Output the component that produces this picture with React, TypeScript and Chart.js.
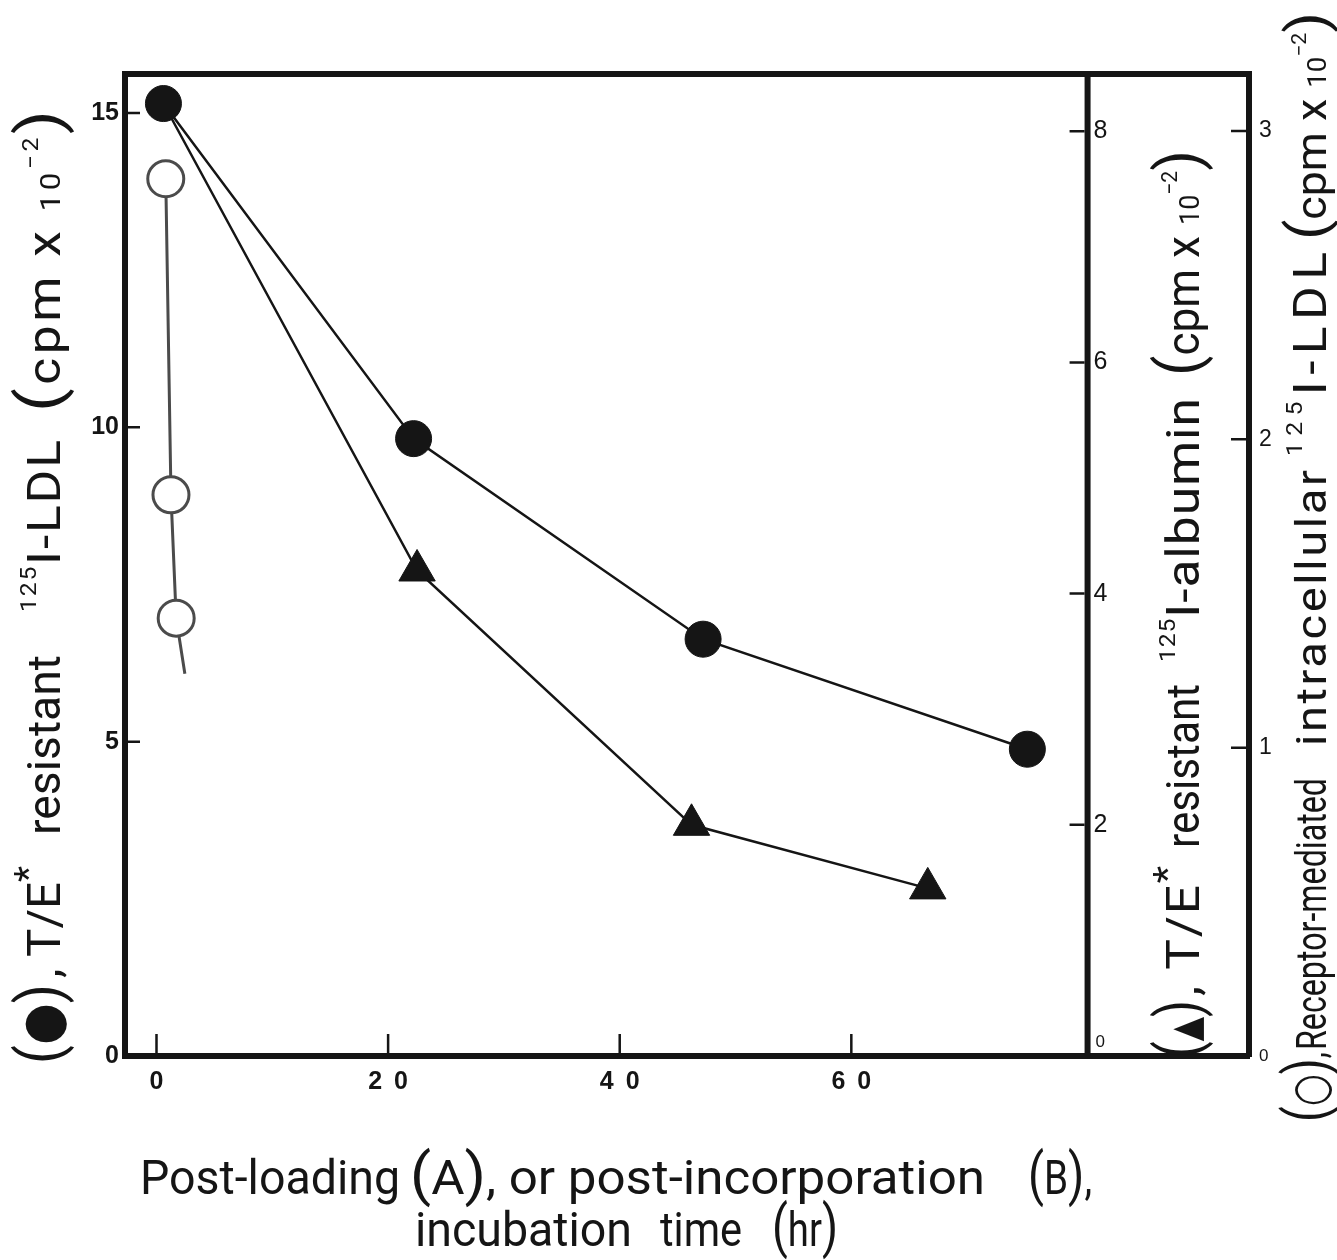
import React, { useEffect, useRef } from "react";
import { Chart, registerables } from "chart.js";

Chart.register(...registerables);

// Incubation time (hr) and measured counts for each series
const ldlHours = [0.6, 22.2, 47.2, 75.2];
const ldlCpm = [15.15, 9.82, 6.63, 4.88];
const albuminHours = [0.6, 22.5, 46.2, 66.6];
const albuminCpm = [8.24, 4.2, 2.0, 1.45];
const receptorHours = [0.8, 1.25, 1.7, 2.45];
const receptorCpm = [2.845, 1.82, 1.42, 1.24];

// Tick values of the four axes
const hourTicks = [0, 20, 40, 60];
const ldlTicks = [0, 5, 10, 15];
const albuminTicks = [0, 2, 4, 6, 8];
const receptorTicks = [0, 1, 2, 3];

// Where the albumin axis stands on the time axis
const albuminAxisHour = 80.4;

const WIDTH = 1337;
const HEIGHT = 1260;
const INK = "#151515";
const GREY = "#4b4b4b";
const TITLE_FONT = "Roboto, 'DejaVu Sans', sans-serif";
const TICK_FONT = "'Liberation Sans', Arial, sans-serif";
const SYMBOL_FONT = "'DejaVu Sans', sans-serif";

type Run = { text: string; size: number; rise?: number; family?: string };
type Group = { from: number; to: number; runs: Run[] };

const T = (text: string, size = 46): Run => ({ text, size });
const P = (text: string, size = 62): Run => ({ text, size });
const S = (text: string, size = 54): Run => ({ text, size, family: SYMBOL_FONT });
const R = (text: string, size: number, rise: number): Run => ({ text, size, rise });

const leftTitle: Group[] = [
  { from: 1064, to: 984, runs: [P("("), S("●"), P(")")] },
  { from: 978, to: 866, runs: [T(", T/E"), R("*", 36, 20)] },
  { from: 835, to: 655, runs: [T("resistant")] },
  { from: 612, to: 440, runs: [R("125", 22, 24), T("I-LDL")] },
  { from: 412, to: 110, runs: [P("("), T("cpm x "), T("10", 28), R("−2", 22, 22), P(")")] },
];

const albuminTitle: Group[] = [
  { from: 1058, to: 1000, runs: [P("("), S("▲", 40), P(")")] },
  { from: 996, to: 866, runs: [T(", T/E"), R("*", 36, 20)] },
  { from: 848, to: 684, runs: [T("resistant")] },
  { from: 662, to: 398, runs: [R("125", 22, 24), T("I-albumin")] },
  { from: 376, to: 150, runs: [P("("), T("cpm x "), T("10", 28), R("−2", 22, 22), P(")")] },
];

const receptorTitle: Group[] = [
  { from: 1122, to: 1052, runs: [P("(", 60), S("○", 48), P(")", 60), T(",", 42)] },
  { from: 1050, to: 778, runs: [T("Receptor-mediated", 42)] },
  { from: 746, to: 470, runs: [T("intracellular", 42)] },
  { from: 456, to: 252, runs: [R("125", 22, 24), T("I-LDL", 46)] },
  { from: 240, to: 12, runs: [P("(", 56), T("cpm x ", 42), T("10", 26), R("−2", 20, 20), P(")", 56)] },
];

const timeTitle: { baseline: number; groups: Group[] }[] = [
  {
    baseline: 1194,
    groups: [
      { from: 140, to: 400, runs: [T("Post-loading", 48)] },
      { from: 410, to: 985, runs: [P("(", 58), T("A", 48), P(")", 58), T(", or post-incorporation", 48)] },
      { from: 1028, to: 1092, runs: [P("(", 58), T("B", 48), P(")", 58), T(",", 48)] },
    ],
  },
  {
    baseline: 1246,
    groups: [
      { from: 415, to: 632, runs: [T("incubation", 48)] },
      { from: 660, to: 742, runs: [T("time", 48)] },
      { from: 772, to: 838, runs: [P("(", 58), T("hr", 48), P(")", 58)] },
    ],
  },
];

function fontOf(run: Run) {
  return `${run.size}px ${run.family ?? TITLE_FONT}`;
}

// Draws a group of text runs so that it spans [from, to]: squeezed when too
// long; when too short it is widened a little, then letter-spaced.
function drawGroup(ctx: CanvasRenderingContext2D, group: Group, baseline: number, vertical: boolean) {
  ctx.save();
  (ctx as any).letterSpacing = "0px";
  const widths = group.runs.map((run) => {
    ctx.font = fontOf(run);
    return ctx.measureText(run.text).width;
  });
  const total = widths.reduce((a, b) => a + b, 0);
  const span = Math.abs(group.to - group.from);
  const chars = group.runs.reduce((n, r) => n + r.text.length, 0);
  if (vertical) {
    ctx.translate(baseline, group.from);
    ctx.rotate(-Math.PI / 2);
  } else {
    ctx.translate(group.from, baseline);
  }
  let stretch = span / total;
  let spacing = 0;
  if (stretch > 1.12) {
    stretch = 1.12;
    if (chars > 1) spacing = (span / stretch - total) / (chars - 1);
  }
  ctx.scale(stretch, 1);
  ctx.textAlign = "left";
  ctx.textBaseline = "alphabetic";
  ctx.fillStyle = INK;
  let cursor = 0;
  group.runs.forEach((run, i) => {
    ctx.font = fontOf(run);
    (ctx as any).letterSpacing = `${spacing}px`;
    ctx.fillText(run.text, cursor, -(run.rise ?? 0));
    cursor += widths[i] + run.text.length * spacing;
  });
  ctx.restore();
}

const framePlugin = {
  id: "frame",
  beforeDraw(chart: any) {
    const ctx = chart.ctx as CanvasRenderingContext2D;
    ctx.save();
    ctx.fillStyle = "#ffffff";
    ctx.fillRect(0, 0, chart.width, chart.height);
    ctx.restore();
  },
  afterDraw(chart: any) {
    const ctx = chart.ctx as CanvasRenderingContext2D;
    const { left, right, top, bottom } = chart.chartArea;
    const xs = chart.scales.x;
    const yL = chart.scales.yLdl;
    const yA = chart.scales.yAlbumin;
    const yR = chart.scales.yReceptor;
    ctx.save();
    ctx.strokeStyle = INK;
    ctx.lineCap = "butt";

    // top edge of the frame
    ctx.lineWidth = 6;
    ctx.beginPath();
    ctx.moveTo(left - 3, top);
    ctx.lineTo(right + 3, top);
    ctx.stroke();

    // albumin axis inside the frame
    const ax = xs.getPixelForValue(albuminAxisHour);
    ctx.beginPath();
    ctx.moveTo(ax, top);
    ctx.lineTo(ax, bottom);
    ctx.stroke();

    // inward tick marks
    ctx.lineWidth = 2.5;
    ctx.beginPath();
    ldlTicks.forEach((v) => {
      if (v === 0) return;
      const y = yL.getPixelForValue(v);
      ctx.moveTo(left + 3, y);
      ctx.lineTo(left + 15, y);
    });
    hourTicks.forEach((v) => {
      const x = xs.getPixelForValue(v);
      ctx.moveTo(x, bottom - 3);
      ctx.lineTo(x, bottom - 22);
    });
    albuminTicks.forEach((v) => {
      if (v === 0) return;
      const y = yA.getPixelForValue(v);
      ctx.moveTo(ax - 18, y);
      ctx.lineTo(ax - 3, y);
    });
    receptorTicks.forEach((v) => {
      if (v === 0) return;
      const y = yR.getPixelForValue(v);
      ctx.moveTo(right - 18, y);
      ctx.lineTo(right - 3, y);
    });
    ctx.stroke();

    ctx.fillStyle = INK;

    // time axis labels, letter-spaced
    const hourSpacing = 12;
    ctx.font = `bold 25px ${TICK_FONT}`;
    ctx.textAlign = "center";
    ctx.textBaseline = "middle";
    (ctx as any).letterSpacing = `${hourSpacing}px`;
    hourTicks.forEach((v) => {
      ctx.fillText(String(v), xs.getPixelForValue(v) + hourSpacing / 2, bottom + 26);
    });
    (ctx as any).letterSpacing = "0px";

    // albumin axis labels
    ctx.textAlign = "left";
    albuminTicks.forEach((v) => {
      if (v === 0) {
        ctx.font = `17px ${TICK_FONT}`;
        ctx.fillText(String(v), ax + 8, bottom - 14);
      } else {
        ctx.font = `25px ${TICK_FONT}`;
        ctx.fillText(String(v), ax + 6, yA.getPixelForValue(v));
      }
    });
    ctx.restore();

    // axis titles
    leftTitle.forEach((g) => drawGroup(ctx, g, 60, true));
    albuminTitle.forEach((g) => drawGroup(ctx, g, 1199, true));
    receptorTitle.forEach((g) => drawGroup(ctx, g, 1326, true));
    timeTitle.forEach((line) => line.groups.forEach((g) => drawGroup(ctx, g, line.baseline, false)));
  },
};

const points = (xs: number[], ys: number[]) => xs.map((x, i) => ({ x, y: ys[i] }));

export default function App() {
  const canvasRef = useRef<HTMLCanvasElement | null>(null);

  useEffect(() => {
    document.body.style.margin = "0";
    const canvas = canvasRef.current;
    if (!canvas) return;

    const chart = new Chart(canvas, {
      type: "scatter",
      data: {
        datasets: [
          {
            label: "T/E* resistant 125I-LDL",
            data: points(ldlHours, ldlCpm),
            yAxisID: "yLdl",
            showLine: true,
            borderColor: INK,
            borderWidth: 2.5,
            pointStyle: "circle",
            pointRadius: 18,
            pointHoverRadius: 18,
            pointBackgroundColor: INK,
            pointBorderColor: INK,
            pointBorderWidth: 1,
          },
          {
            label: "T/E* resistant 125I-albumin",
            data: points(albuminHours, albuminCpm),
            yAxisID: "yAlbumin",
            showLine: true,
            borderColor: INK,
            borderWidth: 2.5,
            pointStyle: "triangle",
            pointRadius: [0, 21, 21, 21],
            pointHoverRadius: [0, 21, 21, 21],
            pointBackgroundColor: INK,
            pointBorderColor: INK,
            pointBorderWidth: 1,
          },
          {
            label: "Receptor-mediated intracellular 125I-LDL",
            data: points(receptorHours, receptorCpm),
            yAxisID: "yReceptor",
            showLine: true,
            borderColor: GREY,
            borderWidth: 3,
            pointStyle: "circle",
            pointRadius: [18, 18, 18, 0],
            pointHoverRadius: [18, 18, 18, 0],
            pointBackgroundColor: "#ffffff",
            pointBorderColor: GREY,
            pointBorderWidth: 3,
          },
        ],
      },
      options: {
        responsive: false,
        animation: false,
        devicePixelRatio: 1,
        layout: { padding: { left: 0, right: 0, top: 74, bottom: 0 } },
        plugins: {
          legend: { display: false },
          tooltip: { enabled: false },
          title: { display: false },
        },
        elements: { line: { tension: 0 } },
        scales: {
          x: {
            type: "linear",
            position: "bottom",
            min: -2.72,
            max: 94.34,
            afterBuildTicks: (scale: any) => {
              scale.ticks = hourTicks.map((value) => ({ value }));
            },
            afterFit: (scale: any) => {
              scale.height = HEIGHT - 1056;
            },
            grid: { display: false, drawTicks: false },
            border: { display: true, width: 6, color: INK },
            ticks: { display: false },
          },
          yLdl: {
            type: "linear",
            position: "left",
            min: 0,
            max: 15.62,
            afterBuildTicks: (scale: any) => {
              scale.ticks = ldlTicks.map((value) => ({ value }));
            },
            afterFit: (scale: any) => {
              scale.width = 125;
            },
            grid: { display: false, drawTicks: false },
            border: { display: true, width: 6, color: INK },
            ticks: {
              color: INK,
              padding: 6,
              font: { family: TICK_FONT, size: 25, weight: "bold" },
            },
          },
          yAlbumin: {
            type: "linear",
            position: "right",
            display: false,
            min: 0,
            max: 8.495,
          },
          yReceptor: {
            type: "linear",
            position: "right",
            min: 0,
            max: 3.185,
            afterBuildTicks: (scale: any) => {
              scale.ticks = receptorTicks.map((value) => ({ value }));
            },
            afterFit: (scale: any) => {
              scale.width = WIDTH - 1249;
            },
            grid: { display: false, drawTicks: false },
            border: { display: true, width: 6, color: INK },
            ticks: {
              color: INK,
              padding: 10,
              font: (ctx: any) => ({
                family: TICK_FONT,
                size: ctx.tick && ctx.tick.value === 0 ? 17 : 23,
              }),
            },
          },
        },
      },
      plugins: [framePlugin],
    });

    return () => chart.destroy();
  }, []);

  return (
    <canvas
      ref={canvasRef}
      width={WIDTH}
      height={HEIGHT}
      style={{ display: "block", width: WIDTH, height: HEIGHT }}
    />
  );
}
